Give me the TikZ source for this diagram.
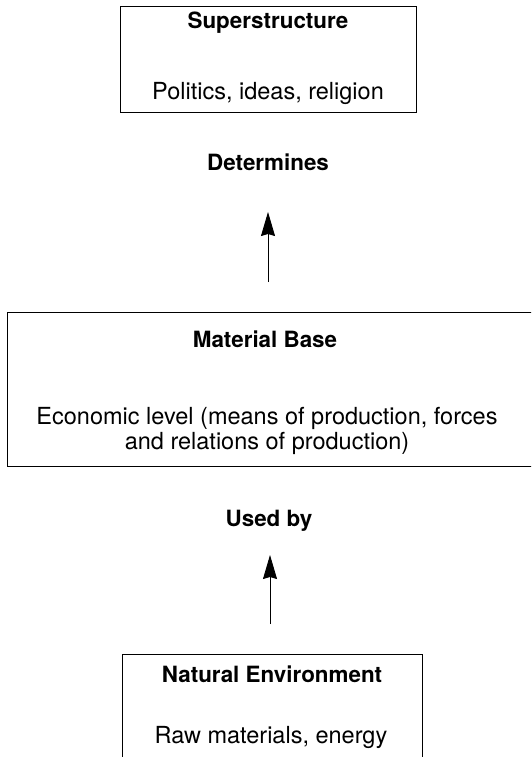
\documentclass[tikz,border=0pt]{standalone}
\usepackage{fontspec}
\setmainfont{TeX Gyre Heros}
\usetikzlibrary{arrows.meta, positioning, calc}
\tikzset{
	panel/.style={rectangle, draw, line width=1.2pt, anchor=north west, inner sep=0pt},
	heading/.style={font=\fontsize{22.4}{26}\selectfont\bfseries, anchor=base, inner sep=0pt},
	body/.style={font=\fontsize{23.5}{26}\selectfont, anchor=base, inner sep=0pt},
	link/.style={draw, line width=0.9pt, -{Stealth[length=24pt, width=14pt, inset=2pt]}}
}

\begin{document}
\begin{tikzpicture}[x=1pt, y=-1pt]
		\useasboundingbox (0,0) rectangle (531,757);
		\clip (0,0) rectangle (531,757);
		
		% --- Top: superstructure ---
		\node[panel, minimum width=296pt, minimum height=106pt] (superstructure) at (120,6) {};
		\node[heading] (super_title) at (268,29) {Superstructure};
		\node[body] (super_text) at (268,100) {Politics, ideas, religion};
		
		% --- First link, pointing up ---
		\node[heading] (determines) at (268,170) {Determines};
		\coordinate (det_tail) at (268,282);
		\coordinate (det_tip) at (268,212);
		\draw[link] (det_tail) -- (det_tip);
		
		% --- Middle: material base (runs off the right edge) ---
		\node[panel, minimum width=540pt, minimum height=154pt] (material) at (7,312) {};
		\node[heading] (base_title) at (265,347) {Material Base};
		\node[body] (base_line1) at (267,424) {Economic level (means of production, forces};
		\node[body] (base_line2) at (267,449) {and relations of production)};
		
		% --- Second link ---
		\node[heading] (usedby) at (269,526) {Used by};
		\coordinate (used_tail) at (270,624);
		\coordinate (used_tip) at (270,555);
		\draw[link] (used_tail) -- (used_tip);
		
		% --- Bottom: natural environment (runs off the bottom) ---
		\node[panel, minimum width=300pt, minimum height=130pt] (nature) at (122,654) {};
		\node[heading] (nature_title) at (272,682) {Natural Environment};
		\node[body] (nature_text) at (271,743) {Raw materials, energy};
\end{tikzpicture}
\end{document}
